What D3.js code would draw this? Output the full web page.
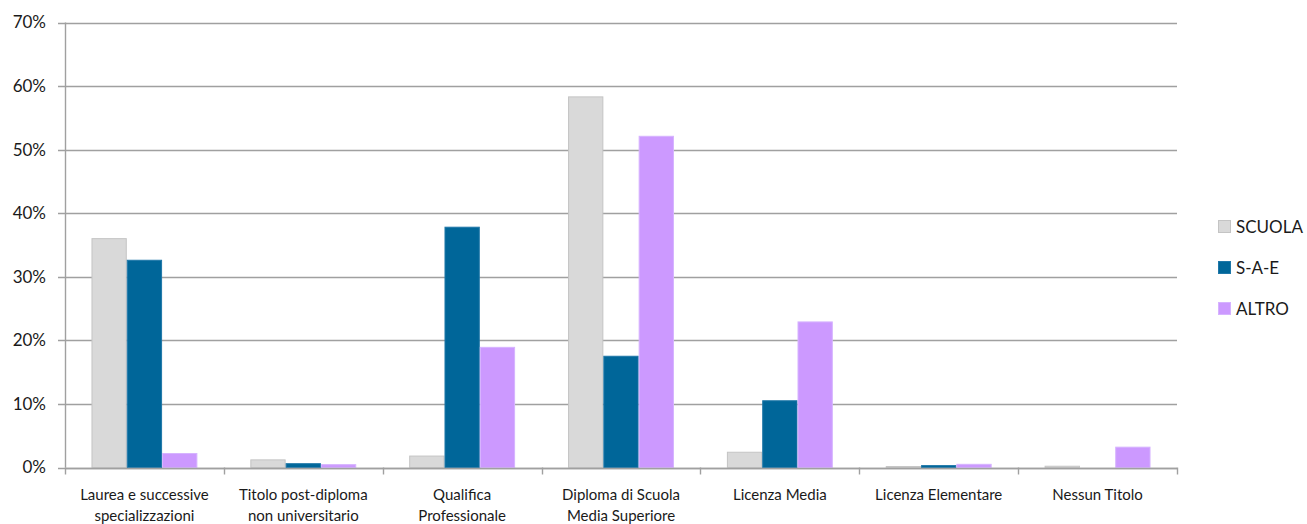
<!DOCTYPE html>
<html><head><meta charset="utf-8">
<script src="https://cdn.jsdelivr.net/npm/d3@7"></script>
<style>html,body{margin:0;padding:0;background:#fff;}svg{display:block;}</style>
</head><body>
<svg id="chart" width="1307" height="524"></svg>
<script>
const categories = [
  ["Laurea e successive","specializzazioni"],
  ["Titolo post-diploma","non universitario"],
  ["Qualifica","Professionale"],
  ["Diploma di Scuola","Media Superiore"],
  ["Licenza Media"],
  ["Licenza Elementare"],
  ["Nessun Titolo"]
];
const seriesNames = ["SCUOLA","S-A-E","ALTRO"];
const scuola = [36.0, 1.2, 1.8, 58.3, 2.4, 0.15, 0.2];
const sae    = [32.6, 0.6, 37.8, 17.5, 10.5, 0.3, 0.0];
const altro  = [2.2, 0.45, 18.9, 52.1, 22.9, 0.5, 3.2];
const yTicks = [0,10,20,30,40,50,60,70];
const colors = ["#d9d9d9","#006699","#cc99ff"];
const strokes = ["#c4c4c4","#1f77a8","#d6b3ff"];

const values = [scuola, sae, altro];
const svg = d3.select("#chart");
const FONT = "Lato, 'Open Sans', sans-serif";
const TXT = "#1a1a1a";
const m = {left:65, right:1177, top:22.5, bottom:467.5};

const x = d3.scaleBand().domain(d3.range(categories.length)).range([m.left, m.right]).paddingInner(0).paddingOuter(0);
const xs = d3.scaleBand().domain(seriesNames).range([0, x.bandwidth()]).paddingInner(0).paddingOuter(0.75);
const y = d3.scaleLinear().domain([0,70]).range([m.bottom, m.top]);

// gridlines
svg.append("g").selectAll("line").data(yTicks).join("line")
  .attr("x1", m.left-7).attr("x2", m.right)
  .attr("y1", d=>Math.round(y(d))+0.5).attr("y2", d=>Math.round(y(d))+0.5)
  .attr("stroke","#a0a0a0").attr("stroke-width",1.4);

// y axis line
svg.append("line").attr("x1",m.left+0.5).attr("x2",m.left+0.5)
  .attr("y1",y(70)).attr("y2",y(0)).attr("stroke","#a0a0a0").attr("stroke-width",1.4);

// y labels
svg.append("g").selectAll("text").data(yTicks).join("text")
  .attr("x", 46).attr("y", d=>y(d)).attr("dy","0.35em")
  .attr("text-anchor","end").attr("font-family",FONT).attr("font-size",17).attr("fill",TXT)
  .text(d=>d+"%");

// bars
seriesNames.forEach((s,si)=>{
  svg.append("g").selectAll("rect").data(values[si]).join("rect")
    .attr("x",(d,i)=>x(i)+xs(s)+0.5)
    .attr("width",xs.bandwidth()-1)
    .attr("y",d=>y(d))
    .attr("height",d=>Math.max(0,y(0)-y(d)))
    .attr("fill",colors[si]).attr("stroke",strokes[si]).attr("stroke-width",1);
});

// x axis line
svg.append("line").attr("x1",m.left).attr("x2",m.right)
  .attr("y1",Math.round(y(0))+0.5).attr("y2",Math.round(y(0))+0.5).attr("stroke","#a0a0a0").attr("stroke-width",1.4);
// x ticks at category boundaries
const bounds = d3.range(categories.length+1).map(i=> i<categories.length ? x(i) : m.right);
svg.append("g").selectAll("line").data(bounds).join("line")
  .attr("x1",d=>Math.round(d)+0.5).attr("x2",d=>Math.round(d)+0.5)
  .attr("y1",y(0)).attr("y2",y(0)+7).attr("stroke","#a0a0a0").attr("stroke-width",1.4);

// category labels
const cl = svg.append("g").selectAll("text").data(categories).join("text")
  .attr("x",(d,i)=>x(i)+x.bandwidth()/2).attr("y",495)
  .attr("text-anchor","middle").attr("font-family",FONT).attr("font-size",15).attr("fill",TXT);
cl.each(function(d,i){
  const t=d3.select(this);
  d.forEach((line,li)=>{
    t.append("tspan").attr("x",x(i)+x.bandwidth()/2).attr("dy", li===0?"0.35em":"21px").text(line);
  });
});

// legend
const lg = svg.append("g");
seriesNames.forEach((s,si)=>{
  const cy = 227 + si*41;
  lg.append("rect").attr("x",1218.5).attr("y",cy-6.5).attr("width",12).attr("height",12)
    .attr("fill",colors[si]).attr("stroke",strokes[si]);
  lg.append("text").attr("x",1236).attr("y",cy).attr("dy","0.35em")
    .attr("font-family",FONT).attr("font-size",17).attr("fill",TXT).text(s);
});
</script>
</body></html>
